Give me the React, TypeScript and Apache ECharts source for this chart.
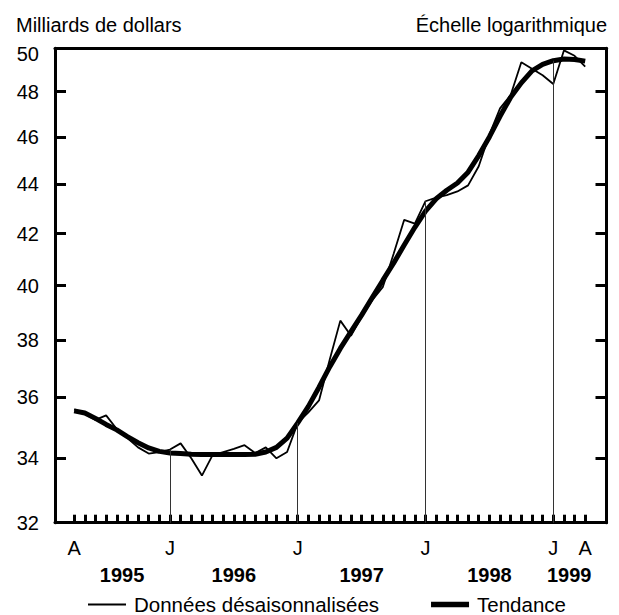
import React, { useEffect, useRef } from "react";
import * as echarts from "echarts";

// Monthly values, April 1995 (index 0) to April 1999 (index 48), billions of dollars
const seasonallyAdjusted = [
  35.6, 35.45, 35.25, 35.4, 34.95, 34.65, 34.35, 34.15, 34.2, 34.28,
  34.48, 34.0, 33.45, 34.1, 34.2, 34.3, 34.42, 34.17, 34.35, 34.0,
  34.2, 35.15, 35.5, 35.9, 37.3, 38.7, 38.15, 38.85, 39.45, 39.95,
  41.2, 42.55, 42.4, 43.3, 43.45, 43.55, 43.7, 43.95, 44.75, 46.1,
  47.25, 47.85, 49.35, 49.05, 48.75, 48.35, 49.9, 49.65, 49.15,
];
const trend = [
  35.55, 35.48, 35.3, 35.1, 34.92, 34.7, 34.5, 34.33, 34.22, 34.17,
  34.15, 34.13, 34.12, 34.12, 34.12, 34.12, 34.12, 34.13, 34.2, 34.35,
  34.65, 35.15, 35.7, 36.35, 37.05, 37.7, 38.3, 38.9, 39.55, 40.2,
  40.85, 41.55, 42.25, 42.9, 43.4, 43.75, 44.05, 44.5, 45.2, 46.0,
  46.9, 47.75, 48.4, 48.95, 49.25, 49.42, 49.5, 49.48, 49.4,
];
const monthLabelPositions = [0, 9, 21, 33, 45, 48];
const monthLabels = ["A", "J", "J", "J", "J", "A"];
const januaryPositions = [9, 21, 33, 45];
const years = ["1995", "1996", "1997", "1998", "1999"];
const yearCenters = [4.5, 15, 27, 39, 46.5];
const yTicks = [32, 34, 36, 38, 40, 42, 44, 46, 48, 50];

const FONT = "'Liberation Sans', Arial, sans-serif";
const FS = 20;
const AXIS_LINE = { show: true, onZero: false, lineStyle: { color: "#000", width: 3 } };

export default function App() {
  const ref = useRef<HTMLDivElement>(null);
  useEffect(() => {
    document.body.style.margin = "0";
    const chart = echarts.init(ref.current!, null, { renderer: "svg" });
    const monthTicks = seasonallyAdjusted.map((_, i) => i);
    const yMin = yTicks[0];
    const yMax = yTicks[yTicks.length - 1];
    const janLines = januaryPositions.map((m) => [
      { coord: [m, yMin] },
      { coord: [m, Math.max(seasonallyAdjusted[m], trend[m])] },
    ]);
    const xMin = -1.8;
    const xMax = 50;
    chart.setOption({
      animation: false,
      textStyle: { fontFamily: FONT, color: "#000" },
      title: [
        { text: "Milliards de dollars", left: 11, top: 10, textStyle: { fontFamily: FONT, fontSize: FS, fontWeight: "normal", color: "#000" } },
        { text: "Échelle logarithmique", right: 7, top: 10, textStyle: { fontFamily: FONT, fontSize: FS, fontWeight: "normal", color: "#000" } },
      ],
      grid: { left: 55, right: 12.5, top: 48.3, bottom: 92.3 },
      legend: {
        left: 83, top: 589, itemWidth: 38, itemHeight: 14, itemGap: 52,
        textStyle: { fontFamily: FONT, fontSize: 20.5, color: "#000", padding: [0, 0, 0, 3] },
        data: [
          { name: "Données désaisonnalisées", icon: "path://M0,0H38V2H0Z" },
          { name: "Tendance", icon: "path://M0,0H38V5.5H0Z" },
        ],
      },
      xAxis: [
        {
          type: "value", min: xMin, max: xMax, position: "bottom",
          axisLine: AXIS_LINE,
          splitLine: { show: false },
          axisTick: { show: true, inside: true, length: 8, customValues: monthTicks, lineStyle: { color: "#000", width: 3 } },
          axisLabel: {
            customValues: monthLabelPositions, margin: 15,
            fontFamily: FONT, fontSize: FS, color: "#000",
            formatter: (v: number) => monthLabels[monthLabelPositions.indexOf(Math.round(v))] ?? "",
          },
        },
        {
          type: "value", min: xMin, max: xMax, position: "bottom",
          axisLine: { show: false }, splitLine: { show: false },
          axisTick: { show: false },
          axisLabel: {
            customValues: yearCenters, margin: 42,
            fontFamily: FONT, fontSize: FS, fontWeight: "bold", color: "#000",
            formatter: (v: number) => years[yearCenters.indexOf(v)] ?? "",
          },
        },
        {
          type: "value", min: xMin, max: xMax, position: "top",
          axisLine: AXIS_LINE, splitLine: { show: false },
          axisTick: { show: false }, axisLabel: { show: false },
        },
      ],
      yAxis: [
        {
          type: "log", logBase: 10, min: yMin, max: yMax, position: "left",
          axisLine: AXIS_LINE, splitLine: { show: false }, minorTick: { show: false },
          axisTick: { show: true, inside: true, length: 11, customValues: yTicks, lineStyle: { color: "#000", width: 3 } },
          axisLabel: {
            customValues: yTicks, margin: 16, fontFamily: FONT, fontSize: FS, color: "#000",
            formatter: (v: number) => (Math.round(v) === yMax ? "{t|" + yMax + "}" : String(Math.round(v))),
            rich: { t: { padding: [12, 0, 0, 0], fontFamily: FONT, fontSize: FS, color: "#000" } },
          },
        },
        {
          type: "log", logBase: 10, min: yMin, max: yMax, position: "right",
          axisLine: AXIS_LINE, splitLine: { show: false }, minorTick: { show: false },
          axisTick: { show: true, inside: true, length: 11, customValues: yTicks, lineStyle: { color: "#000", width: 3 } },
          axisLabel: { show: false },
        },
      ],
      series: [
        {
          name: "Données désaisonnalisées", type: "line", xAxisIndex: 0, yAxisIndex: 0,
          data: seasonallyAdjusted.map((v, i) => [i, v]),
          symbol: "none", lineStyle: { color: "#000", width: 1.8 }, itemStyle: { color: "#000" },
          markLine: {
            silent: true, symbol: "none", label: { show: false },
            lineStyle: { color: "#333", width: 1, type: "solid" },
            data: janLines,
          },
          z: 3,
        },
        {
          name: "Tendance", type: "line", xAxisIndex: 0, yAxisIndex: 0,
          data: trend.map((v, i) => [i, v]),
          symbol: "none", lineStyle: { color: "#000", width: 5 }, itemStyle: { color: "#000" },
          z: 2,
        },
      ],
    });
    return () => chart.dispose();
  }, []);
  return <div ref={ref} style={{ width: 619, height: 615 }} />;
}
